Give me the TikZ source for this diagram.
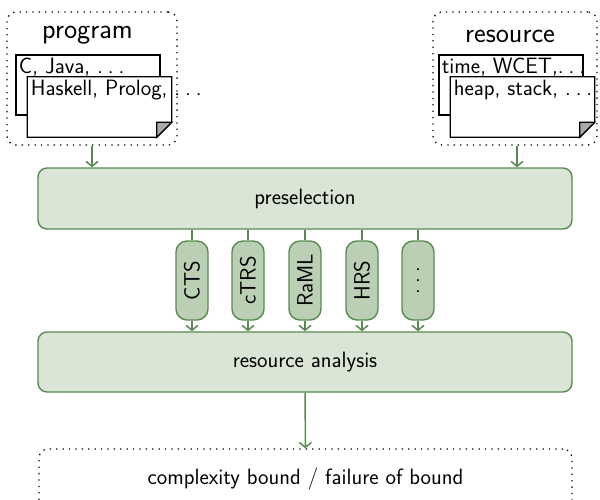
\documentclass[tikz,border=0pt]{standalone}
\usepackage{fontspec}
\usepackage{tikz}
\usetikzlibrary{positioning,arrows.meta}

\definecolor{boxgreen}{RGB}{218,229,214}
\definecolor{toolgreen}{RGB}{186,207,180}
\definecolor{linegreen}{RGB}{88,138,82}
\definecolor{foldgray}{RGB}{170,170,170}

\newcommand{\spdots}{.\kern.22em.\kern.22em.}

\begin{document}
\begin{tikzpicture}[x=1pt, y=-1pt, >={Straight Barb[length=5pt,width=12pt]},
  every node/.style={font=\fontsize{22.2}{26}\sffamily\selectfont},
  group/.style={draw, line width=1.3pt, dash pattern=on 1.3pt off 5.1pt, rounded corners=9pt},
  big label/.style={font=\fontsize{28}{33}\sffamily\selectfont, anchor=base},
  doc/.style={draw, fill=white, line width=1.2pt, minimum width=144, minimum height=60},
  doc text/.style={anchor=north west},
  stage/.style={draw=linegreen, fill=boxgreen, line width=1.4pt, rounded corners=9pt,
    minimum width=534, minimum height=61},
  tool/.style={draw=linegreen, fill=toolgreen, line width=1.4pt, rounded corners=11pt,
    rotate=90, minimum width=79, minimum height=32, inner sep=0pt},
  flow/.style={draw=linegreen, line width=1.5pt}]

\useasboundingbox (0,0) rectangle (600,499);

% input groups
\node [group, minimum width=170, minimum height=133] (program) at (92,78.5) {};
\node [group, minimum width=164, minimum height=133] (resource) at (515,78.5) {};

\node [big label] (program-label) at (87.5,38) {program};
\node [big label] (resource-label) at (510,42) {resource};

% documents
\foreach \n/\x/\back/\front in {program/16/{C, Java, \spdots}/{Haskell, Prolog, \spdots},
                                resource/439/{time, WCET,\spdots}/{heap, stack, \spdots}} {
  \node [doc] (\n-back) at (\x+72,85) {};
  \node [doc text] (\n-back-text) at (\n-back.north west) {\back};
  \node [minimum width=144, minimum height=60] (\n-front) at (\x+83.5,107) {};
  \draw [fill=white, line width=1.2pt] (\n-front.north west) -- (\n-front.north east)
    -- ([yshift=15pt]\n-front.south east) -- ([xshift=-15pt]\n-front.south east)
    -- (\n-front.south west) -- cycle;
  \draw [fill=foldgray, line width=1.2pt] ([yshift=15pt]\n-front.south east)
    -- ([xshift=-15pt,yshift=15pt]\n-front.south east) -- ([xshift=-15pt]\n-front.south east) -- cycle;
  \node [doc text] (\n-front-text) at (\n-front.north west) {\front};
}

% stages
\node [stage] (preselection) at (305,198.5) {preselection};
\node [stage, minimum height=60] (analysis) at (305,362) {resource analysis};

\draw [flow, ->] (program) -- (program |- preselection.north);
\draw [flow, ->] (resource.south -| 517,0) -- (517,0 |- preselection.north);

\foreach \l/\x [count=\i] in {CTS/192, cTRS/248, RaML/305, HRS/362, \spdots/418} {
  \node [tool] (tool-\i) at (\x,280.5) {\l};
  \draw [flow] (tool-\i |- preselection.south) -- (tool-\i);
  \draw [flow, ->] (tool-\i) -- (tool-\i |- analysis.north);
}

% result
\node [group, minimum width=533, minimum height=60] (result) at (305.5,479)
  {complexity bound / failure of bound};
\draw [flow, ->] (analysis) -- (result);

\end{tikzpicture}
\end{document}
